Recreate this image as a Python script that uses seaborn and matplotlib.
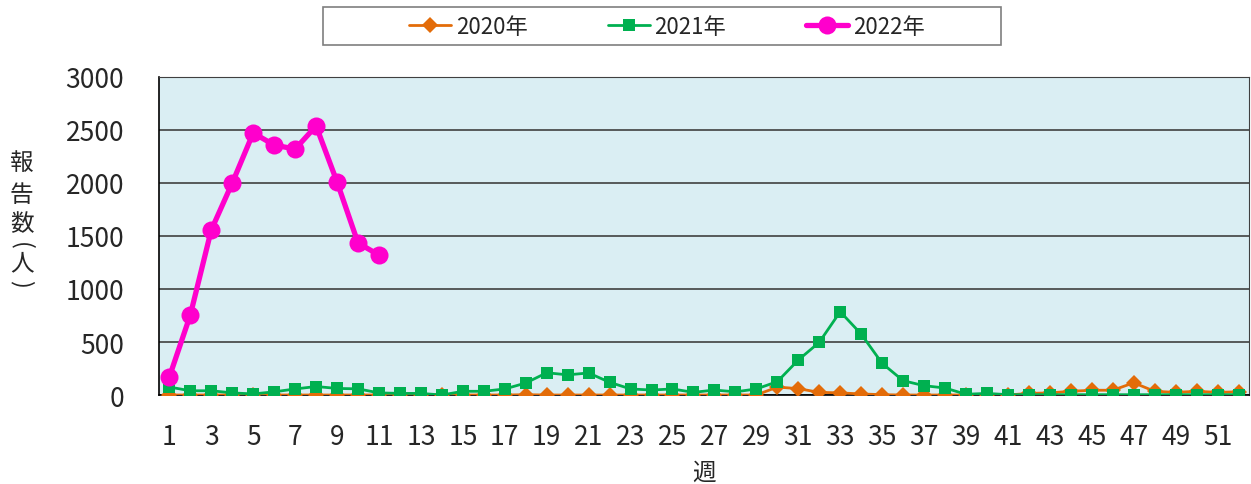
import numpy as np
import pandas as pd
import matplotlib
matplotlib.use("Agg")
import matplotlib.pyplot as plt
from matplotlib.patches import Rectangle
import seaborn as sns

# weekly report counts
weeks = list(range(1, 53))
y2020 = [0, 0, 0, 0, 0, 0, 0, 0, 0, 0, 0, 0, 0, 0, 0, 0, 0, 3, 0, 0,
         0, 0, 0, 0, 0, 0, 0, 0, 0, 75, 60, 25, 20, 10, 3, 0, 0, 0, 0, 0,
         0, 15, 20, 35, 45, 45, 115, 35, 25, 35, 25, 30]
y2021 = [75, 40, 40, 20, 10, 30, 57, 80, 62, 58, 20, 15, 15, 0, 35, 35, 57, 113, 210, 190,
         208, 120, 57, 47, 57, 25, 47, 30, 57, 126, 330, 497, 786, 575, 299, 135, 88, 66, 7, 15,
         3, 3, 3, 3, 3, 3, 3, 3, 3, 3, 3, 3]
y2022 = [170, 755, 1557, 2000, 2472, 2358, 2320, 2538, 2009, 1434, 1320]
series_names = ["2020年", "2021年", "2022年"]
ylabel_chars = ["報", "告", "数", "(", "人", ")"]

df20 = pd.DataFrame({"週": weeks, "報告数": y2020})
df21 = pd.DataFrame({"週": weeks, "報告数": y2021})
df22 = pd.DataFrame({"週": weeks[:len(y2022)], "報告数": y2022})

sns.set_style("white")
plt.rcParams['font.family'] = ['Noto Sans CJK JP', 'DejaVu Sans']

fig = plt.figure(figsize=(12.51, 4.85), dpi=100)
ax = fig.add_axes([0.127, 0.1835, 0.8714, 0.6557])
ax.set_facecolor("#DAEEF3")

sns.lineplot(data=df20, x="週", y="報告数", ax=ax, color="#E36C09", lw=2.0,
             marker="D", markersize=8, markeredgewidth=0, label=series_names[0], zorder=3)
sns.lineplot(data=df21, x="週", y="報告数", ax=ax, color="#00B050", lw=2.0,
             marker="s", markersize=9, markeredgewidth=0, label=series_names[1], zorder=4)
sns.lineplot(data=df22, x="週", y="報告数", ax=ax, color="#FF00CC", lw=3.8,
             marker="o", markersize=13, markeredgewidth=0, label=series_names[2], zorder=5)

ax.set_xlim(0.5, 52.5)
ax.set_ylim(0, 3000)
ax.set_yticks(range(0, 3001, 500))
ax.set_xticks(range(1, 53, 2))
ax.set_xticks(np.arange(1.5, 52, 1), minor=True)
ax.tick_params(axis="x", which="major", length=0, labelsize=19, pad=20)
ax.tick_params(axis="x", which="minor", direction="in", length=8, color="#7F7F7F", width=1.2)
ax.tick_params(axis="y", direction="in", length=8, labelsize=19, pad=25, color="#404040")
ax.grid(axis="y", color="#404040", lw=1.2)
ax.set_axisbelow(True)
for s in ["top", "right"]:
    ax.spines[s].set_color("#404040")
for s in ["left", "bottom"]:
    ax.spines[s].set_color("black")
    ax.spines[s].set_linewidth(1.2)

ax.set_xlabel("週", fontsize=17, labelpad=8)
ax.set_ylabel("")
# vertical y label, one character per row; brackets turned sideways
for i, ch in enumerate(ylabel_chars):
    yy = [163, 196, 225, 246, 264, 284][i]
    rot = -90 if ch in "()" else 0
    fig.text(0.0173, 1 - yy / 485, ch, fontsize=17, ha="center", va="center", rotation=rot)

ax.get_legend().remove()
handles, labels = ax.get_legend_handles_labels()
fig.patches.append(Rectangle((0.2582, 0.9052), 0.542, 0.0784, transform=fig.transFigure,
                             fill=False, edgecolor="#7F7F7F", lw=1.2))
fig.legend(handles, labels, loc="center", bbox_to_anchor=(0.533, 0.944), ncol=3,
           frameon=False, fontsize=16, handlelength=1.9, columnspacing=3.6,
           handletextpad=0.2, borderpad=0, borderaxespad=0)

fig.savefig("out.png", dpi=100)
